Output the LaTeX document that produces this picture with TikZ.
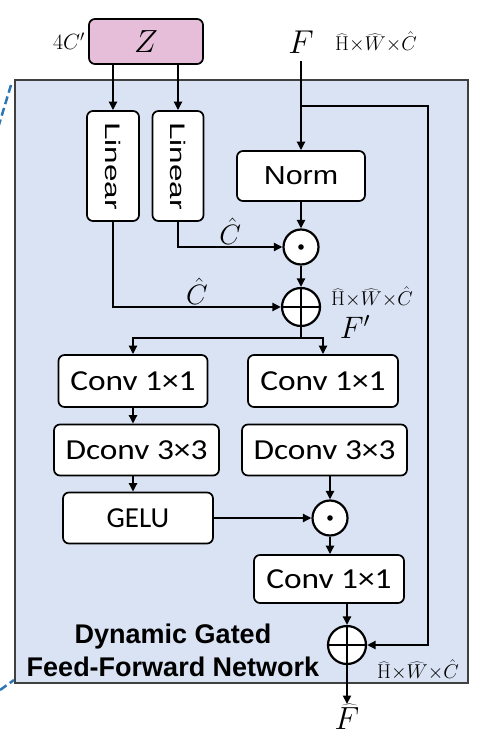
\RequirePackage{fix-cm}
\documentclass[tikz,border=0pt]{standalone}
\usepackage[no-math]{fontspec}
\setmainfont{Liberation Sans}
\newfontfamily\calfont{Carlito}
\usetikzlibrary{arrows.meta}

\definecolor{panelbg}{HTML}{DAE3F3}
\definecolor{zpink}{HTML}{E6BED9}
\definecolor{dashblue}{HTML}{2E75B6}

% stretched text, as in the original drawing
\newcommand{\wide}[2]{\scalebox{#1}[1]{#2}}
% feature size label
\newcommand{\hwc}{$\widehat{\mathrm{H}}{\times}\widehat{W}{\times}\hat{C}$}

\begin{document}
\begin{tikzpicture}[x=1pt, y=-1pt, >={Triangle[length=8.5pt,width=8pt]},
    box/.style={draw, line width=1.7pt, rounded corners=6pt, fill=white, inner sep=0pt},
    convbox/.style={box, font={\calfont\fontsize{29}{29}\selectfont}},
    op/.style={draw, circle, line width=2.2pt, fill=white, minimum size=35pt, inner sep=0pt},
    opdot/.style={op, path picture={\fill[black] (path picture bounding box.center) circle (2.8pt);}},
    opplus/.style={op, minimum size=38pt, path picture={
        \draw[line width=2.2pt] (path picture bounding box.north) -- (path picture bounding box.south)
          (path picture bounding box.west) -- (path picture bounding box.east);}},
    flow/.style={->, line width=2.3pt},
    wire/.style={line width=2.3pt},
    dims/.style={font=\fontsize{20}{20}\selectfont, inner sep=0pt},
    hatlab/.style={font=\fontsize{28}{28}\selectfont, inner sep=1pt}]

    \useasboundingbox (0,0) rectangle (480,743);

    % panel
    \fill[panelbg, draw=black!75, line width=1.5pt] (15,80) rectangle (468,683);
    \draw[dashblue, line width=2.5pt, dash pattern=on 8pt off 4pt] (11,85) -- (-2,128);
    \draw[dashblue, line width=2.5pt, dash pattern=on 8pt off 4pt] (0,690) -- (14,680);

    % inputs
    \node[box, fill=zpink, minimum width=114pt, minimum height=45pt,
      font=\fontsize{32}{32}\selectfont] (z) at (146,41.5) {$Z$};
    \node[anchor=east, inner sep=3pt, font=\fontsize{22}{22}\selectfont] (zdim) at (z.west) {$4C'$};
    \node[font=\fontsize{33}{33}\selectfont, inner sep=0pt] (fin) at (301,42) {$F$};
    \node[dims] (findim) at (376,42) {\hwc};

    % modulation branch
    \node[box, minimum width=52pt, minimum height=110pt] (lin1) at (113,166)
      {\rotatebox{-90}{\wide{1.5}{\fontsize{21}{21}\selectfont Linear}}};
    \node[box, minimum width=51pt, minimum height=110pt] (lin2) at (178,166)
      {\rotatebox{-90}{\wide{1.5}{\fontsize{21}{21}\selectfont Linear}}};
    \node[box, minimum width=128pt, minimum height=50pt] (norm) at (301,176)
      {\wide{1.17}{\fontsize{26}{26}\selectfont Norm}};
    \node[opdot] (dot1) at (301,247) {};
    \node[opplus] (plus1) at (301,307) {};
    \node[dims, anchor=west] (fpdim) at (331,297) {\hwc};
    \node[font=\fontsize{31}{31}\selectfont, inner sep=0pt] (fprime) at (355,327) {$F'$};

    % gated branches
    \node[convbox, minimum width=149pt, minimum height=52pt] (conva) at (133,381) {\wide{1.15}{Conv 1×1}};
    \node[convbox, minimum width=150pt, minimum height=52pt] (convb) at (323,381) {\wide{1.15}{Conv 1×1}};
    \node[convbox, minimum width=165pt, minimum height=51pt] (dconva) at (136.5,450) {\wide{1.15}{Dconv 3×3}};
    \node[convbox, minimum width=165pt, minimum height=51pt] (dconvb) at (324.5,450) {\wide{1.15}{Dconv 3×3}};
    \node[convbox, minimum width=150pt, minimum height=51pt] (gelu) at (138,518) {GELU};
    \node[opdot] (dot2) at (330,518) {};
    \node[convbox, minimum width=150pt, minimum height=48pt] (convc) at (329,579) {\wide{1.15}{Conv 1×1}};
    \node[opplus] (plus2) at (347,645) {};
    \node[font=\fontsize{32}{32}\selectfont, anchor=north, inner sep=0pt] (fout) at (347,704) {$\widehat{F}$};
    \node[dims] (outdim) at (418,670) {\hwc};

    \node[align=center, font=\bfseries\fontsize{27}{33}\selectfont, inner sep=0pt] (title) at (173,650)
      {Dynamic Gated\\Feed-Forward Network};

    % connectors
    \coordinate (split) at (301,106);
    \coordinate (skipr) at (428,106);
    \coordinate (fork) at (301,338);

    \draw[flow] (z.south -| lin1.north) -- (lin1.north);
    \draw[flow] (z.south -| lin2.north) -- (lin2.north);
    \draw[flow] ([yshift=-8pt]fin.south) -- (norm.north);
    \draw[flow] (split) -- (skipr) |- (plus2.east);
    \draw[flow] (norm.south) -- (dot1.north);
    \draw[flow] (dot1.south) -- (plus1.north);
    \draw[flow] (lin2.south) |- (dot1.west) node[pos=0.75, above, hatlab] {$\hat{C}$};
    \draw[flow] (lin1.south) |- (plus1.west) node[pos=0.75, above, hatlab] {$\hat{C}$};

    \draw[wire] (plus1.south) -- (fork);
    \draw[flow] (fork) -| (conva.north);
    \draw[flow] (fork) -| (convb.north);
    \draw[flow] (conva.south) -- (conva.south |- dconva.north);
    \draw[flow] (conva.south |- dconva.south) -- (conva.south |- gelu.north);
    \draw[flow] (dot2.north |- dconvb.south) -- (dot2.north);
    \draw[flow] (gelu.east) -- (dot2.west);
    \draw[flow] (dot2.south) -- (dot2.south |- convc.north);
    \draw[flow] (plus2.north |- convc.south) -- (plus2.north);
    \draw[flow] (plus2.south) -- (fout.north);

\end{tikzpicture}
\end{document}
